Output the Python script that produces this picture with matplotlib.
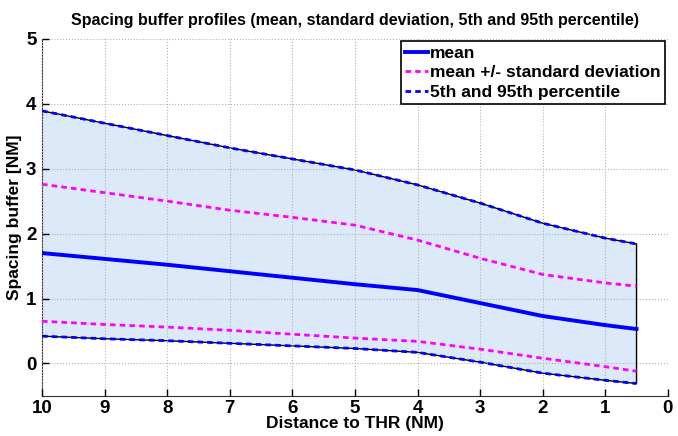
import matplotlib
matplotlib.use("Agg")
import matplotlib.pyplot as plt
import numpy as np

dist = [10, 9, 8, 7, 6, 5, 4, 3, 2, 1, 0.5]
p95 = [3.89, 3.70, 3.51, 3.32, 3.15, 2.98, 2.75, 2.47, 2.16, 1.93, 1.84]
mean_plus = [2.76, 2.63, 2.50, 2.36, 2.25, 2.13, 1.90, 1.62, 1.37, 1.24, 1.19]
mean = [1.70, 1.61, 1.52, 1.42, 1.32, 1.22, 1.13, 0.93, 0.73, 0.59, 0.53]
mean_minus = [0.65, 0.60, 0.56, 0.51, 0.45, 0.39, 0.34, 0.22, 0.08, -0.05, -0.12]
p5 = [0.42, 0.38, 0.35, 0.31, 0.27, 0.23, 0.17, 0.02, -0.15, -0.26, -0.31]
xticks = [10, 9, 8, 7, 6, 5, 4, 3, 2, 1, 0]
yticks = [0, 1, 2, 3, 4, 5]

plt.rcParams['font.family'] = ['Liberation Sans', 'DejaVu Sans']
plt.rcParams['font.weight'] = 'bold'

fig = plt.figure(figsize=(6.78, 4.36), dpi=100)
ax = fig.add_axes([0.062, 0.092, 0.923, 0.819])

poly_x = list(dist) + list(dist[::-1])
poly_y = list(p95) + list(p5[::-1])
ax.fill(poly_x, poly_y, facecolor='#dce9f9', edgecolor='black', linewidth=1.0, zorder=1)

ax.plot(dist, mean, color='#0000ff', lw=2.8, label='mean', zorder=3)
ax.plot(dist, mean_plus, color='#ff00ff', lw=2.0, ls=(0, (2, 1.5)), label='mean +/- standard deviation', zorder=3)
ax.plot(dist, mean_minus, color='#ff00ff', lw=2.0, ls=(0, (2, 1.5)), zorder=3)
ax.plot(dist, p95, color='#0000ff', lw=2.0, ls=(0, (2, 1.5)), label='5th and 95th percentile', zorder=3)
ax.plot(dist, p5, color='#0000ff', lw=2.0, ls=(0, (2, 1.5)), zorder=3)

ax.set_xlim(10, 0)
ax.set_ylim(-0.5, 5)
ax.set_xticks(xticks)
ax.set_yticks(yticks)
ax.tick_params(direction='in', length=5, width=1, labelsize=13.5)
ax.tick_params(axis='x', pad=3)
ax.tick_params(axis='y', pad=4)
for lab in ax.get_xticklabels() + ax.get_yticklabels():
    lab.set_fontweight('bold')
ax.grid(True, ls=':', color='#b0b0b0', lw=0.8)
ax.set_axisbelow(False)
ax.spines['top'].set_visible(False)
ax.spines['right'].set_visible(False)
ax.spines['left'].set_color('#333333')
ax.spines['bottom'].set_color('#333333')

ax.set_xlabel('Distance to THR (NM)', fontsize=12.5, fontweight='bold', labelpad=-1)
ax.set_ylabel('Spacing buffer [NM]', fontsize=12.5, fontweight='bold', labelpad=3)
ax.set_title('Spacing buffer profiles (mean, standard deviation, 5th and 95th percentile)', fontsize=11.5, fontweight='bold', pad=10)

leg = ax.legend(loc='upper right', fontsize=12.5, frameon=True, fancybox=False, handlelength=1.3,
                handletextpad=0.15, borderpad=0.25, labelspacing=0.25, borderaxespad=0.15)
leg.get_frame().set_edgecolor('black')
leg.get_frame().set_linewidth(1.2)
leg.get_frame().set_alpha(1)
for t in leg.get_texts():
    t.set_fontweight('bold')

fig.savefig('out.png', dpi=100)
